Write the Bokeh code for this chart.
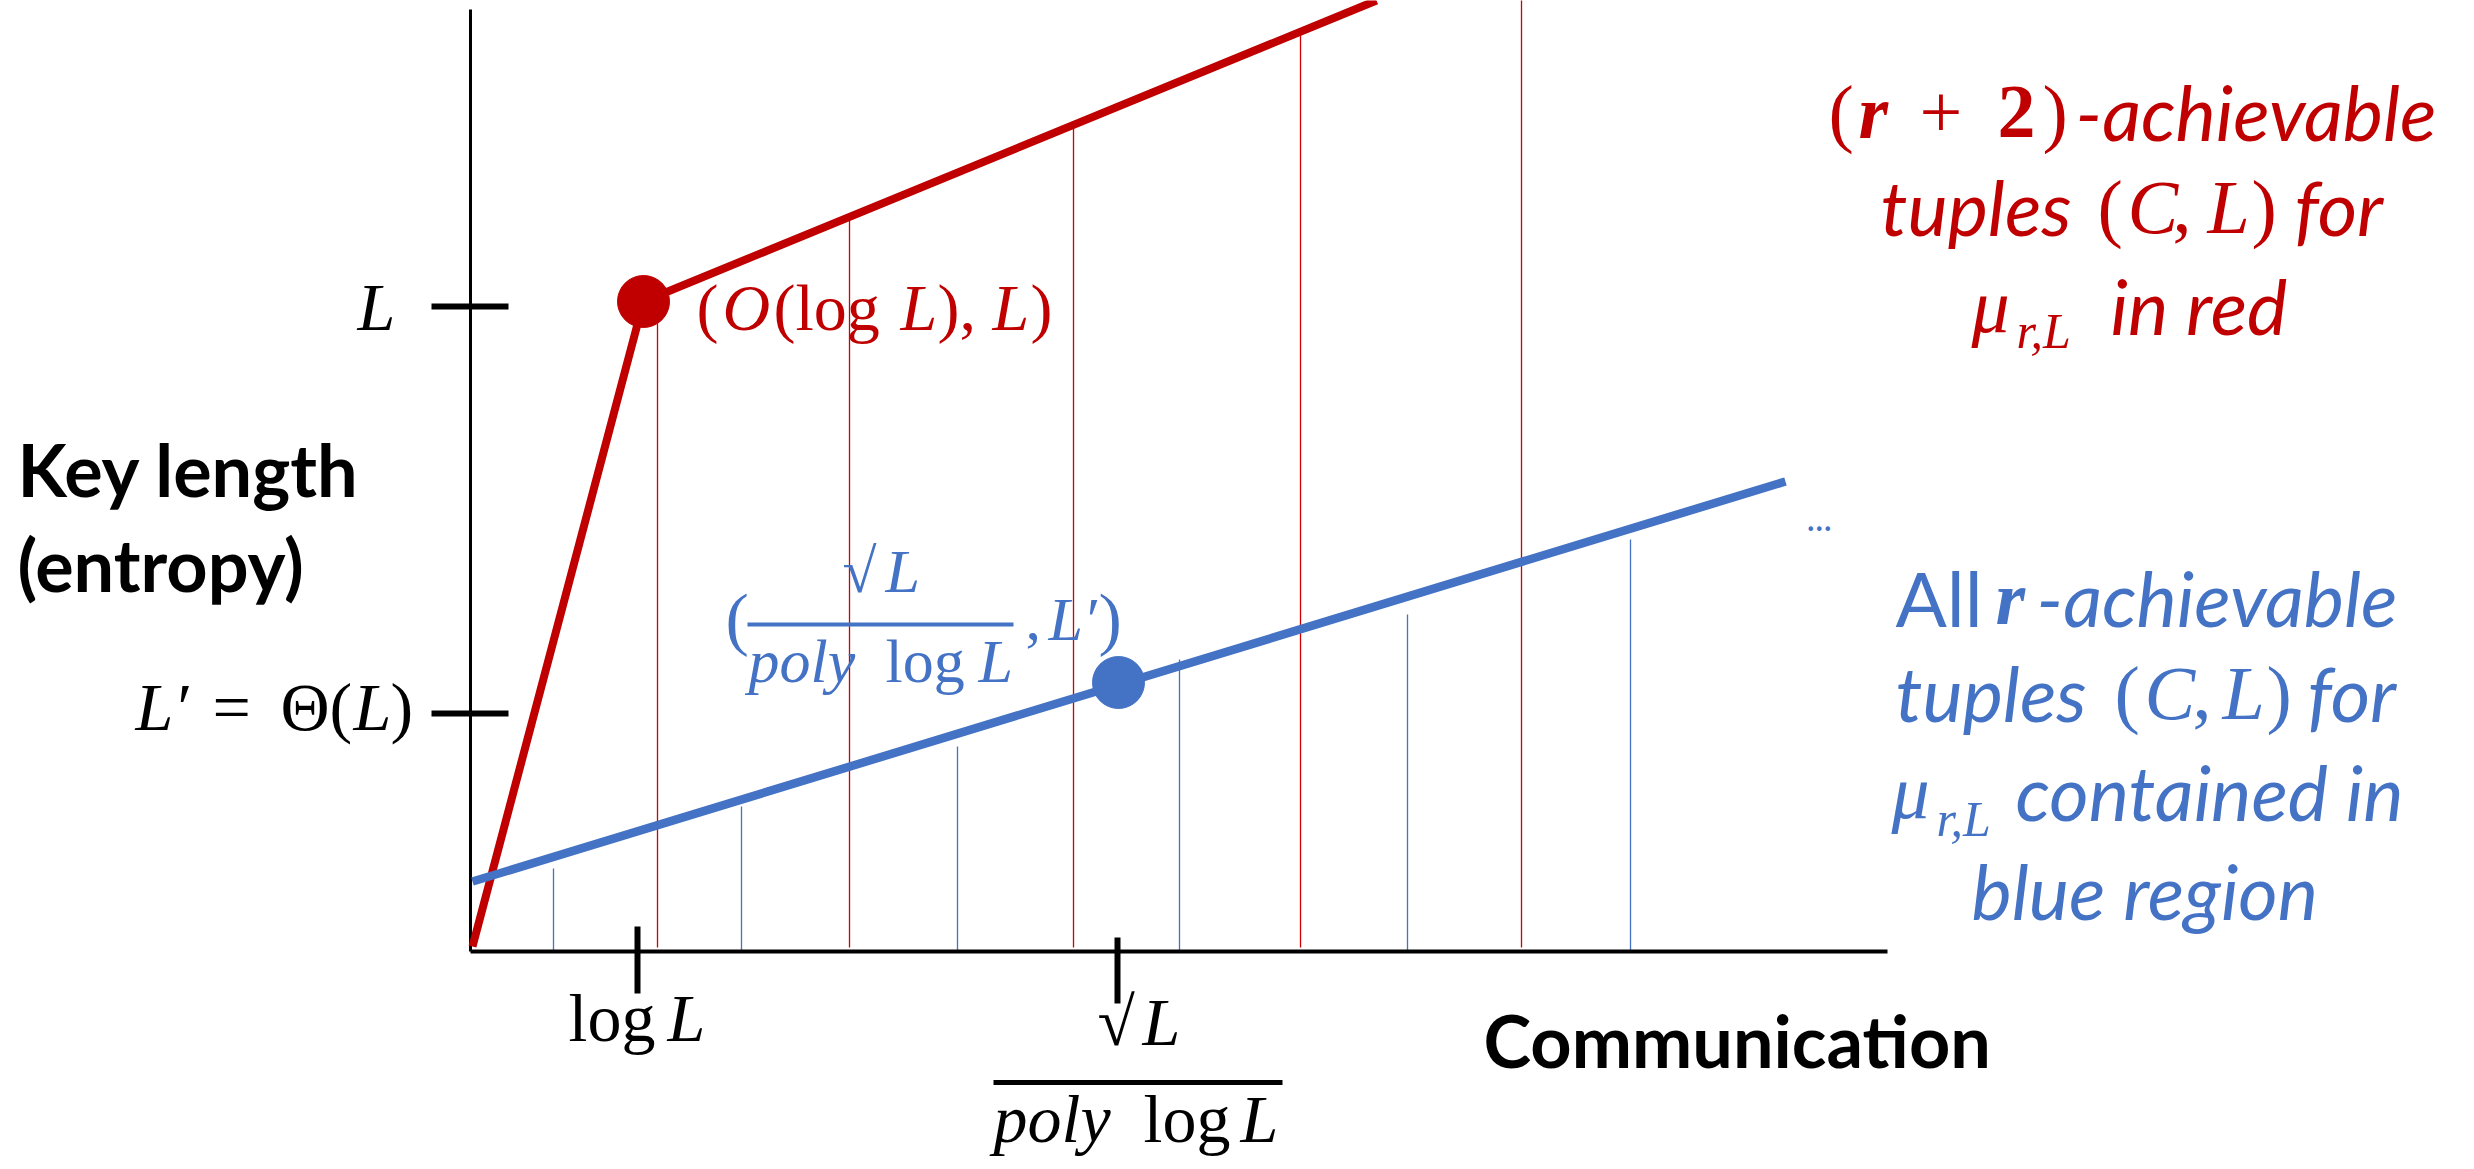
from bokeh.plotting import figure
from bokeh.models import Range1d
from bokeh.core.properties import value
from bokeh.embed import file_html
from bokeh.resources import INLINE

RED = "#C00000"
BLUE = "#4472C4"
SERIF = "Liberation Serif"
SANS = "Lato"

# ---- data (communication, key length) in drawing units, origin at the axes crossing
red_comm = [2, 173, 906]
red_key = [5, 650, 951]
red_point_comm = [173]
red_point_key = [650]
blue_comm = [2, 1315]
blue_key = [70, 470]
blue_point_comm = [648]
blue_point_key = [269]
red_drop_x = [187, 379, 603, 830, 1051]
red_drop_top = [628, 734, 826, 919, 1010]
blue_drop_x = [83, 271, 487, 709, 937, 1160]
blue_drop_top = [83, 145, 205, 292, 337, 412]
x_axis_end = 1417
y_axis_end = 942
x_tick_pos = [167, 647]          # log L ,  sqrt(L)/poly log L
x_tick_top = [25, 14]
x_tick_bottom = [-42, -52]
y_tick_pos = [645, 238]          # L ,  L' = Theta(L)

W, H = 2474, 1169
p = figure(width=W, height=H, x_range=Range1d(-470, W - 470), y_range=Range1d(951 - H, 951),
           x_axis_location=None, y_axis_location=None, toolbar_location=None,
           output_backend="svg", min_border=0, title=None)
p.outline_line_color = None
p.xgrid.grid_line_color = None
p.ygrid.grid_line_color = None

# thin drop lines
p.segment(x0=red_drop_x, y0=[4] * len(red_drop_x), x1=red_drop_x, y1=red_drop_top,
          line_color="#D00000", line_width=1.3)
p.segment(x0=blue_drop_x, y0=[0] * len(blue_drop_x), x1=blue_drop_x, y1=blue_drop_top,
          line_color=BLUE, line_width=1.3)

# axes
p.segment(x0=[0], y0=[0], x1=[0], y1=[y_axis_end], line_color="black", line_width=3)
p.segment(x0=[0], y0=[0], x1=[x_axis_end], y1=[0], line_color="black", line_width=4)
p.segment(x0=x_tick_pos, y0=x_tick_top, x1=x_tick_pos, y1=x_tick_bottom, line_color="black", line_width=6)
p.segment(x0=[-39] * 2, y0=y_tick_pos, x1=[38] * 2, y1=y_tick_pos, line_color="black", line_width=6)

# curves
p.line(red_comm, red_key, line_color=RED, line_width=8)
p.line(blue_comm, blue_key, line_color=BLUE, line_width=8.5)
p.scatter(red_point_comm, red_point_key, size=52, color=RED)
p.scatter(blue_point_comm, blue_point_key, size=52, color=BLUE)


def txt(x, y, s, font, style, size, color, align="left"):
    px = float(size.replace("px", ""))
    p.text(x=[x], y=[y + 0.39 * px], text=[s], text_font=value(font), text_font_style=style,
           text_font_size=size, text_color=color, text_align=align, text_baseline="alphabetic")


def bar(x0, x1, y, color, w):
    p.segment(x0=[x0], y0=[y], x1=[x1], y1=[y], line_color=color, line_width=w)


K = "black"
M = "68px"
# y tick labels
txt(-113, 618, "L", SERIF, "italic", M, K)
txt(-335, 218, "L\u2032", SERIF, "italic", M, K)
txt(-258, 218, "=", SERIF, "normal", M, K)
txt(-190, 218, "\u0398(", SERIF, "normal", M, K)
txt(-117, 218, "L", SERIF, "italic", M, K)
txt(-80, 218, ")", SERIF, "normal", M, K)

# x tick labels
txt(98, -93, "log", SERIF, "normal", M, K)
txt(197, -93, "L", SERIF, "italic", M, K)
txt(627, -97, "\u221A", SERIF, "normal", M, K)
txt(672, -97, "L", SERIF, "italic", M, K)
bar(523, 812, -131, K, 5)
txt(523, -194, "poly", SERIF, "italic", M, K)
txt(673, -194, "log", SERIF, "normal", M, K)
txt(770, -194, "L", SERIF, "italic", M, K)

# axis titles
txt(-453, 454, "Key length", SANS, "bold", "72px", K)
txt(-453, 359, "(entropy)", SANS, "bold", "72px", K)
txt(1013, -117, "Communication", SANS, "bold", "72px", K)

# red point label
R = "66px"
txt(226, 618, "(", SERIF, "normal", R, RED)
txt(252, 618, "O", SERIF, "italic", R, RED)
txt(303, 618, "(log", SERIF, "normal", R, RED)
txt(430, 618, "L", SERIF, "italic", R, RED)
txt(467, 618, "),", SERIF, "normal", R, RED)
txt(522, 618, "L", SERIF, "italic", R, RED)
txt(560, 618, ")", SERIF, "normal", R, RED)

# blue point label
B = "62px"
txt(255, 306, "(", SERIF, "normal", "70px", BLUE)
txt(372, 356, "\u221A", SERIF, "normal", B, BLUE)
txt(415, 356, "L", SERIF, "italic", B, BLUE)
bar(277, 543, 327, BLUE, 4)
txt(278, 266, "poly", SERIF, "italic", B, BLUE)
txt(415, 266, "log", SERIF, "normal", B, BLUE)
txt(508, 266, "L", SERIF, "italic", B, BLUE)
txt(555, 308, ",", SERIF, "normal", B, BLUE)
txt(578, 308, "L\u2032", SERIF, "italic", B, BLUE)
txt(628, 306, ")", SERIF, "normal", "70px", BLUE)

txt(1336, 419, "...", SANS, "normal", "36px", BLUE)

# right-hand red legend
S = "76px"
T = "76px"
SUB = "50px"
txt(1358, 810, "(", SERIF, "normal", S, RED)
txt(1388, 810, "r", SERIF, "bold italic", S, RED)
txt(1449, 810, "+", SERIF, "normal", S, RED)
txt(1527, 810, "2", SERIF, "bold", S, RED)
txt(1572, 810, ")", SERIF, "normal", S, RED)
txt(1605, 810, "-achievable", SANS, "italic", T, RED)
txt(1410, 715, "tuples", SANS, "italic", T, RED)
txt(1627, 715, "(", SERIF, "normal", S, RED)
txt(1657, 715, "C", SERIF, "italic", S, RED)
txt(1702, 715, ",", SERIF, "normal", S, RED)
txt(1737, 715, "L", SERIF, "italic", S, RED)
txt(1781, 715, ")", SERIF, "normal", S, RED)
txt(1824, 715, "for", SANS, "italic", T, RED)
txt(1501, 616, "\u03BC", SERIF, "italic", S, RED)
txt(1546, 601, "r,L", SERIF, "italic", SUB, RED)
txt(1640, 616, "in red", SANS, "italic", T, RED)

# right-hand blue legend
txt(1425, 324, "All", SANS, "normal", T, BLUE)
txt(1525, 324, "r", SERIF, "bold italic", S, BLUE)
txt(1566, 324, "-achievable", SANS, "italic", T, BLUE)
txt(1425, 229, "tuples", SANS, "italic", T, BLUE)
txt(1644, 229, "(", SERIF, "normal", S, BLUE)
txt(1674, 229, "C", SERIF, "italic", S, BLUE)
txt(1722, 229, ",", SERIF, "normal", S, BLUE)
txt(1752, 229, "L", SERIF, "italic", S, BLUE)
txt(1796, 229, ")", SERIF, "normal", S, BLUE)
txt(1837, 229, "for", SANS, "italic", T, BLUE)
txt(1421, 130, "\u03BC", SERIF, "italic", S, BLUE)
txt(1466, 113, "r,L", SERIF, "italic", SUB, BLUE)
txt(1545, 130, "contained in", SANS, "italic", T, BLUE)
txt(1501, 31, "blue region", SANS, "italic", T, BLUE)

open("out.html", "w").write(file_html(p, INLINE))
